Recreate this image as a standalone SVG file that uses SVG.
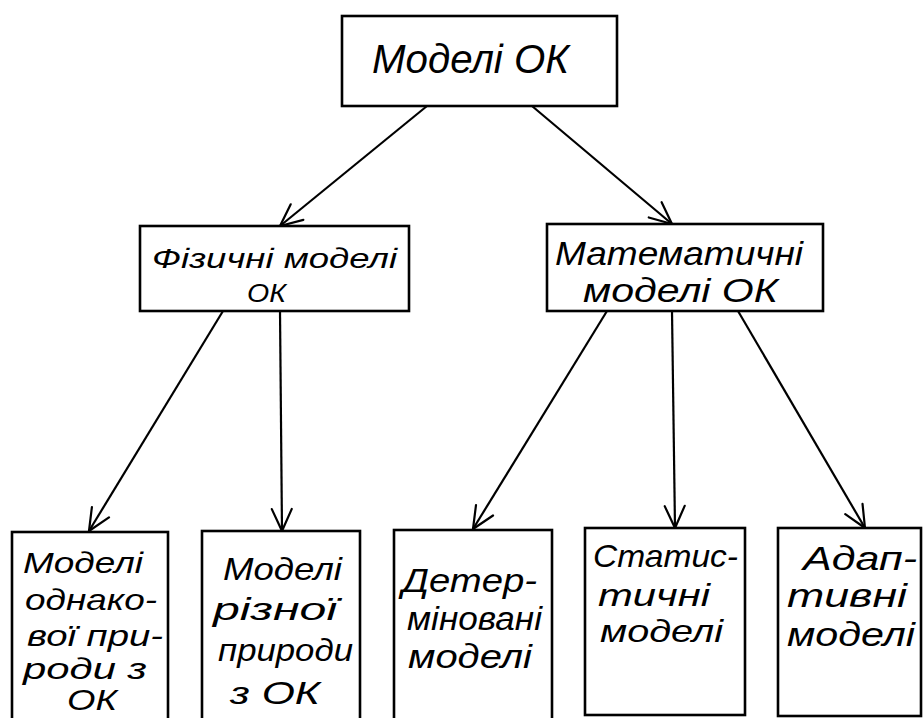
<svg xmlns="http://www.w3.org/2000/svg" width="924" height="718" viewBox="0 0 924 718">
<style>
  .box { fill: #fff; stroke: #000; stroke-width: 2.6; }
  .lbl { font-family: "Liberation Sans", "DejaVu Sans", sans-serif; font-style: italic; fill: #000; }
  .con { stroke: #000; stroke-width: 2.2; fill: none; marker-end: url(#vhead); }
</style>
<defs>
  <marker id="vhead" markerUnits="userSpaceOnUse" markerWidth="30" markerHeight="30" refX="24" refY="12" orient="auto" viewBox="0 0 30 24">
    <path d="M2,2 L24,12 L2,22" fill="none" stroke="#000" stroke-width="2.2" stroke-linecap="round" stroke-linejoin="round"/>
  </marker>
</defs>
<rect width="924" height="718" fill="#fff"/>

<g id="connectors">
  <line class="con" x1="427" y1="106" x2="280" y2="226"/>
  <line class="con" x1="532" y1="106" x2="672" y2="224"/>
  <line class="con" x1="223" y1="311" x2="89" y2="531"/>
  <line class="con" x1="280" y1="311" x2="282" y2="531"/>
  <line class="con" x1="607" y1="311" x2="473" y2="529"/>
  <line class="con" x1="672" y1="311" x2="675" y2="528"/>
  <line class="con" x1="738" y1="311" x2="865" y2="528"/>
</g>

<g id="models-ok">
  <rect class="box" x="342" y="16" width="275" height="90"/>
  <text class="lbl" x="372" y="73" font-size="40" textLength="197" lengthAdjust="spacingAndGlyphs">Моделі ОК</text>
</g>

<g id="physical-models">
  <rect class="box" x="140" y="226" width="269" height="85"/>
  <text class="lbl" x="152" y="268" font-size="27" textLength="245" lengthAdjust="spacingAndGlyphs">Фізичні моделі</text>
  <text class="lbl" x="247" y="302" font-size="26" textLength="39" lengthAdjust="spacingAndGlyphs">ОК</text>
</g>

<g id="math-models">
  <rect class="box" x="547" y="224" width="276" height="87"/>
  <text class="lbl" x="555" y="265" font-size="34" textLength="248" lengthAdjust="spacingAndGlyphs">Математичні</text>
  <text class="lbl" x="583" y="302" font-size="34" textLength="195" lengthAdjust="spacingAndGlyphs">моделі ОК</text>
</g>

<g id="same-nature">
  <rect class="box" x="12" y="532" width="156" height="200"/>
  <text class="lbl" x="23" y="573" font-size="30" textLength="120" lengthAdjust="spacingAndGlyphs">Моделі</text>
  <text class="lbl" x="25" y="610" font-size="30" textLength="132" lengthAdjust="spacingAndGlyphs">однако-</text>
  <text class="lbl" x="27" y="646" font-size="30" textLength="136" lengthAdjust="spacingAndGlyphs">вої при-</text>
  <text class="lbl" x="23" y="679" font-size="30" textLength="124" lengthAdjust="spacingAndGlyphs">роди з</text>
  <text class="lbl" x="67" y="710" font-size="30" textLength="50" lengthAdjust="spacingAndGlyphs">ОК</text>
</g>

<g id="different-nature">
  <rect class="box" x="202" y="531" width="158" height="200"/>
  <text class="lbl" x="223" y="580" font-size="32" textLength="119" lengthAdjust="spacingAndGlyphs">Моделі</text>
  <text class="lbl" x="213" y="620" font-size="32" textLength="124" lengthAdjust="spacingAndGlyphs">різної</text>
  <text class="lbl" x="218" y="661" font-size="32" textLength="135" lengthAdjust="spacingAndGlyphs">природи</text>
  <text class="lbl" x="230" y="704" font-size="32" textLength="90" lengthAdjust="spacingAndGlyphs">з ОК</text>
</g>

<g id="deterministic">
  <rect class="box" x="394" y="530" width="158" height="200"/>
  <text class="lbl" x="402" y="592" font-size="33" textLength="135" lengthAdjust="spacingAndGlyphs">Детер-</text>
  <text class="lbl" x="407" y="630" font-size="33" textLength="135" lengthAdjust="spacingAndGlyphs">міновані</text>
  <text class="lbl" x="408" y="668" font-size="33" textLength="124" lengthAdjust="spacingAndGlyphs">моделі</text>
</g>

<g id="statistical">
  <rect class="box" x="585" y="528" width="160" height="187"/>
  <text class="lbl" x="593" y="567" font-size="32" textLength="145" lengthAdjust="spacingAndGlyphs">Статис-</text>
  <text class="lbl" x="598" y="606" font-size="32" textLength="112" lengthAdjust="spacingAndGlyphs">тичні</text>
  <text class="lbl" x="600" y="642" font-size="32" textLength="123" lengthAdjust="spacingAndGlyphs">моделі</text>
</g>

<g id="adaptive">
  <rect class="box" x="778" y="528" width="143" height="188"/>
  <text class="lbl" x="803" y="570" font-size="33" textLength="114" lengthAdjust="spacingAndGlyphs">Адап-</text>
  <text class="lbl" x="787" y="607" font-size="33" textLength="120" lengthAdjust="spacingAndGlyphs">тивні</text>
  <text class="lbl" x="787" y="646" font-size="33" textLength="128" lengthAdjust="spacingAndGlyphs">моделі</text>
</g>
</svg>
